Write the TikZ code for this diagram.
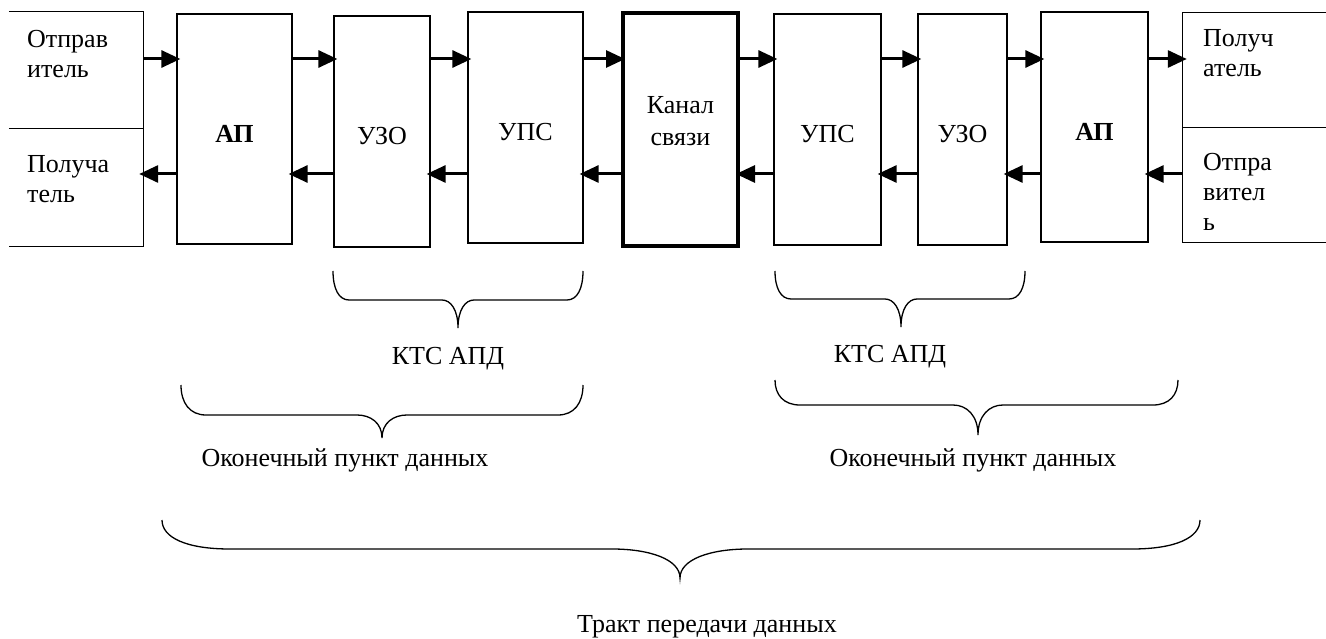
\documentclass[tikz,border=0pt]{standalone}
\usepackage{fontspec}
\setmainfont{Liberation Serif}
\usetikzlibrary{arrows.meta,calc}
\newcommand\bracedraw[7]{% x0 x1 ytop yh xtip ytip c
  \draw[brc] (#1,#3) .. controls (#1,{#3+0.6*(#4-#3)}) and ({#1+0.35*#7},#4) .. ({#1+#7},#4)
    -- ({#5-#7},#4) .. controls ({#5-0.45*#7},#4) and (#5,{#4+0.35*(#6-#4)}) .. (#5,#6)
    .. controls (#5,{#4+0.35*(#6-#4)}) and ({#5+0.45*#7},#4) .. ({#5+#7},#4)
    -- ({#2-#7},#4) .. controls ({#2-0.35*#7},#4) and (#2,{#3+0.6*(#4-#3)}) .. (#2,#3);}
\begin{document}
\begin{tikzpicture}[x=1pt,y=-1pt,
  txt/.style={font=\fontsize{26}{30}\selectfont, inner sep=0pt},
  box/.style={draw, line width=1.3pt, inner sep=0pt, font=\fontsize{26}{32}\selectfont, align=center, text height=27pt, text depth=0pt},
  thickbox/.style={draw, line width=4pt, inner sep=0pt, font=\fontsize{26}{32}\selectfont, align=center, text depth=18pt},
  cell/.style={draw=none, inner sep=0pt},
  ln/.style={line width=1.3pt},
  brc/.style={line width=1.3pt},
  arr/.style={line width=3pt, -{Triangle[length=19pt,width=17pt]}, shorten >=-4pt}]
\useasboundingbox (0,0) rectangle (1326,639);
\coordinate (rowT) at (0,59);
\coordinate (rowB) at (0,174);
% side cells
\node[cell, minimum width=134pt, minimum height=116pt] (snd1) at (76,70) {};
\node[cell, minimum width=134pt, minimum height=118pt] (rcv1) at (76,187) {};
\node[cell, minimum width=143pt, minimum height=114pt] (rcv2) at (1254.5,70) {};
\node[cell, minimum width=143pt, minimum height=115pt] (snd2) at (1254.5,184.5) {};
\draw[ln] (snd1.north west) -- (snd1.north east) -- (rcv1.south east) -- (rcv1.south west);
\draw[ln] (snd1.south west) -- (snd1.south east);
\draw[ln] (rcv2.north east) -- (rcv2.north west) -- (snd2.south west) -- (snd2.south east);
\draw[ln] (rcv2.south west) -- (rcv2.south east);
\node[txt, anchor=base west, align=left] (t1) at (27,78) {Отправ\\итель};
\node[txt, anchor=base west, align=left] (t2) at (27,203) {Получа\\тель};
\node[txt, anchor=base west, align=left] (t3) at (1203,77) {Получ\\атель};
\node[txt, anchor=base west, align=left] (t4) at (1203,231) {Отпра\\вител\\ь};
% blocks
\node[box, minimum width=115pt, minimum height=230pt, font=\fontsize{26}{32}\selectfont\bfseries] (ap1) at (234.5,129) {АП};
\node[box, minimum width=96pt, minimum height=231pt] (uzo1) at (382,131.5) {УЗО};
\node[box, minimum width=115pt, minimum height=231pt] (ups1) at (525.5,127.5) {УПС};
\node[thickbox, minimum width=115pt, minimum height=233pt] (kan) at (680.5,129.5) {Канал\\связи};
\node[box, minimum width=107pt, minimum height=231pt] (ups2) at (827.5,129.5) {УПС};
\node[box, minimum width=89pt, minimum height=231pt] (uzo2) at (962.5,129.5) {УЗО};
\node[box, minimum width=107pt, minimum height=230pt, font=\fontsize{26}{32}\selectfont\bfseries] (ap2) at (1094.5,127) {АП};
% forward arrows
\draw[arr] (snd1.east |- rowT) -- (ap1.west |- rowT);
\draw[arr] (ap1.east |- rowT) -- (uzo1.west |- rowT);
\draw[arr] (uzo1.east |- rowT) -- (ups1.west |- rowT);
\draw[arr] (ups1.east |- rowT) -- (kan.west |- rowT);
\draw[arr] (kan.east |- rowT) -- (ups2.west |- rowT);
\draw[arr] (ups2.east |- rowT) -- (uzo2.west |- rowT);
\draw[arr] (uzo2.east |- rowT) -- (ap2.west |- rowT);
\draw[arr] (ap2.east |- rowT) -- (rcv2.west |- rowT);
% backward arrows
\draw[arr] (ap1.west |- rowB) -- (rcv1.east |- rowB);
\draw[arr] (uzo1.west |- rowB) -- (ap1.east |- rowB);
\draw[arr] (ups1.west |- rowB) -- (uzo1.east |- rowB);
\draw[arr] (kan.west |- rowB) -- (ups1.east |- rowB);
\draw[arr] (ups2.west |- rowB) -- (kan.east |- rowB);
\draw[arr] (uzo2.west |- rowB) -- (ups2.east |- rowB);
\draw[arr] (ap2.west |- rowB) -- (uzo2.east |- rowB);
\draw[arr] (snd2.west |- rowB) -- (ap2.east |- rowB);
% braces
\bracedraw{333}{583}{271}{300}{458}{328}{16}
\bracedraw{775}{1025}{271}{299}{901}{327}{16}
\bracedraw{181}{583}{385}{415}{382}{438}{25}
\bracedraw{775}{1178}{380}{405}{978}{435}{25}
\bracedraw{162}{1200}{520}{549}{680}{578}{68}
% labels
\node[txt, anchor=base] (k1) at (448,364) {КТС АПД};
\node[txt, anchor=base] (k2) at (890,362) {КТС АПД};
\node[txt, anchor=base] (o1) at (345,466) {Оконечный пункт данных};
\node[txt, anchor=base] (o2) at (973,466) {Оконечный пункт данных};
\node[txt, anchor=base] (tr) at (707,632) {Тракт передачи данных};
\end{tikzpicture}
\end{document}
